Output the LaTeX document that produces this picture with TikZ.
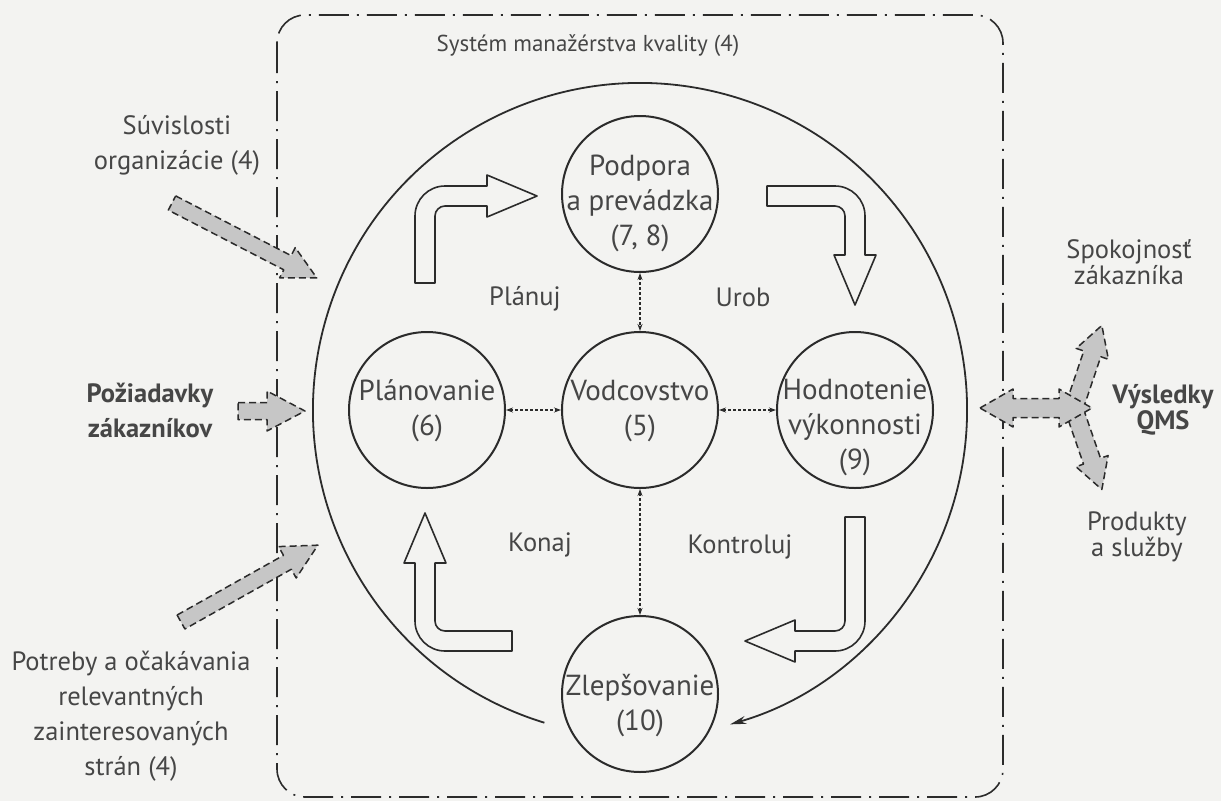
\documentclass[tikz,border=0pt]{standalone}
\usepackage{fontspec}
\setmainfont{PT Sans}
\usetikzlibrary{arrows.meta}
\definecolor{bgc}{HTML}{F3F3F1}
\definecolor{linec}{HTML}{2B2B2B}
\definecolor{textc}{HTML}{464646}
\definecolor{greyfill}{HTML}{C6C6C6}
\newcommand\turnarrow[2]{%
  \draw[blk] (-10,#1) -- (-10,20) .. controls (-10,3.43) and (3.43,-10) .. (20,-10)
    -- ({#2-50},-10) -- ({#2-50},-21) -- (#2,0) -- ({#2-50},21) -- ({#2-50},10)
    -- (20,10) .. controls (14.48,10) and (10,14.48) .. (10,20) -- (10,#1) -- cycle;}
\newcommand\straightblk[5]{%
  \draw[#1] (0,-#3) -- ({#2-#5},-#3) -- ({#2-#5},-#4) -- (#2,0) -- ({#2-#5},#4)
    -- ({#2-#5},#3) -- (0,#3) -- cycle;}
\begin{document}
\begin{tikzpicture}[x=1pt,y=-1pt,
  circ/.style={circle, draw=linec, line width=2pt, minimum size=156pt, inner sep=0pt},
  ctext/.style={text=textc, align=center, inner sep=0pt, font=\fontsize{29}{35}\selectfont},
  lbl/.style={text=textc, align=center, inner sep=0pt, font=\fontsize{26.5}{35}\selectfont},
  rlbl/.style={lbl, font=\fontsize{26.5}{26}\selectfont},
  blbl/.style={lbl, font=\fontsize{26.5}{35}\selectfont\bfseries},
  rblbl/.style={lbl, font=\fontsize{26.5}{26}\selectfont\bfseries},
  tlbl/.style={lbl, font=\fontsize{23}{28}\selectfont},
  blk/.style={draw=linec, line width=1.6pt, fill=bgc, line join=round},
  garrow/.style={draw=linec, fill=greyfill, line width=1.5pt, dash pattern=on 7pt off 4pt, line join=round},
  dasharrow/.style={draw=linec, line width=1.3pt, dash pattern=on 3pt off 2pt,
    {Stealth[length=7pt,width=5pt]}-{Stealth[length=7pt,width=5pt]}},
  frame/.style={draw=linec, line width=1.6pt, rounded corners=28pt,
    dash pattern=on 30pt off 8pt on 2pt off 8pt}
]
\useasboundingbox (0,0) rectangle (1221,801);
\fill[bgc] (0,0) rectangle (1221,801);
% frame
\draw[frame] (277,15) rectangle (1003,797);
% big cycle arc
\coordinate (O) at (640,410);
\coordinate (arcstart) at ([shift={(253:327pt)}]O);
\draw[linec, line width=1.8pt, -{Stealth[length=16pt,width=8pt]}]
  (arcstart) arc[start angle=253, end angle=-74, radius=327pt];
% circles
\node[circ] (podpora) at (640,194) {};
\node[circ] (vod) at (640,410) {};
\node[circ] (plan) at (427,410) {};
\node[circ] (hod) at (855,410) {};
\node[circ] (zlep) at (640,694) {};
\node[ctext] (podporat) at (640,203) {Podpora\\a prevádzka\\(7, 8)};
\node[ctext] (vodt) at (640,411) {Vodcovstvo\\(5)};
\node[ctext] (plant) at (427,411) {Plánovanie\\(6)};
\node[ctext] (hodt) at (855,427) {Hodnotenie\\výkonnosti\\(9)};
\node[ctext] (zlept) at (640,706) {Zlepšovanie\\(10)};
% dashed connectors
\draw[dasharrow] (podpora) -- (vod);
\draw[dasharrow] (plan) -- (vod);
\draw[dasharrow] (vod) -- (hod);
\draw[dasharrow] (vod) -- (zlep);
% hollow turning arrows
\begin{scope}[shift={(425,196)}] \turnarrow{87}{112} \end{scope}
\begin{scope}[shift={(855,196)}, rotate=-90] \turnarrow{88}{109} \end{scope}
\begin{scope}[shift={(855,641)}, rotate=180] \turnarrow{124}{110} \end{scope}
\begin{scope}[shift={(425,641)}, rotate=90] \turnarrow{87}{128} \end{scope}
% grey input arrows
\begin{scope}[shift={(172,203)}, rotate=-27.35] \straightblk{garrow}{163}{8}{17}{33} \end{scope}
\begin{scope}[shift={(238,411)}] \straightblk{garrow}{67}{8.5}{20}{38} \end{scope}
\begin{scope}[shift={(181,622)}, rotate=29.3] \straightblk{garrow}{157}{8}{18}{35} \end{scope}
% output arrows
\begin{scope}[shift={(1075,405)}, rotate=71.35] \straightblk{garrow}{84}{9}{17}{30} \end{scope}
\begin{scope}[shift={(1075,412)}, rotate=-70.9] \straightblk{garrow}{82}{9}{17}{30} \end{scope}
\draw[garrow] (980,408) -- (1013,389) -- (1013,398.5) -- (1059,398.5) -- (1059,389)
  -- (1092,408) -- (1059,427) -- (1059,417.5) -- (1013,417.5) -- (1013,427) -- cycle;
% labels
\node[tlbl] (title) at (588,46) {Systém manažérstva kvality (4)};
\node[lbl] (planuj) at (525,299) {Plánuj};
\node[lbl] (urob) at (743,297) {Urob};
\node[lbl] (konaj) at (540,545) {Konaj};
\node[lbl] (kontroluj) at (740,547) {Kontroluj};
\node[lbl] (suv) at (177,145) {Súvislosti\\organizácie (4)};
\node[blbl] (poz) at (150,410) {Požiadavky\\zákazníkov};
\node[lbl] (potreby) at (131,716) {Potreby a očakávania\\relevantných\\zainteresovaných\\strán (4)};
\node[rlbl] (spok) at (1129,262) {Spokojnosť\\zákazníka};
\node[rblbl] (vys) at (1163,410) {Výsledky\\QMS};
\node[rlbl] (prod) at (1137,537) {Produkty\\a služby};
\end{tikzpicture}
\end{document}
